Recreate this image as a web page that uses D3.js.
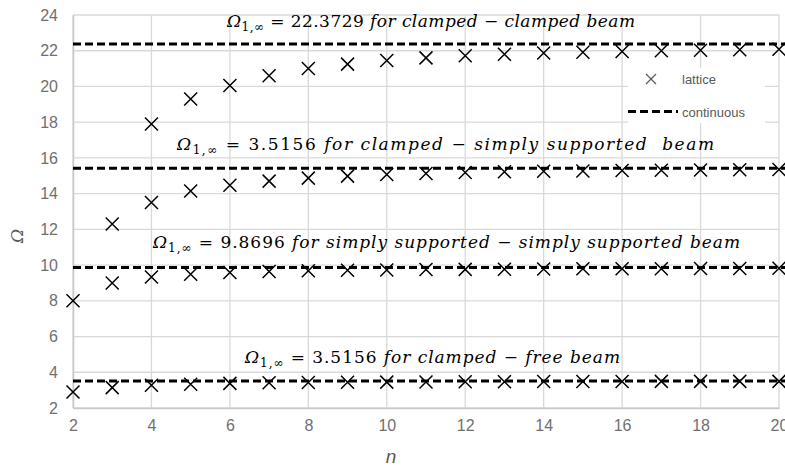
<!DOCTYPE html>
<html>
<head>
<meta charset="utf-8">
<script src="https://cdn.jsdelivr.net/npm/d3@7"></script>
<style>
  body { margin: 0; background: #fff; }
  .tick text { fill: #707070; font-family: "Liberation Sans", "Open Sans", sans-serif; font-size: 16px; }
  .note { font-family: "DejaVu Serif", "Liberation Serif", serif; font-size: 17px; fill: #000; }
</style>
</head>
<body>
<script>
//data
var nValues = [2, 3, 4, 5, 6, 7, 8, 9, 10, 11, 12, 13, 14, 15, 16, 17, 18, 19, 20];
var clampedClamped = [null, null, 17.9, 19.3, 20.05, 20.6, 21.0, 21.25, 21.45, 21.6, 21.72, 21.8, 21.87, 21.92, 21.96, 22.0, 22.03, 22.06, 22.08];
var clampedSimply = [null, 12.3, 13.5, 14.15, 14.47, 14.7, 14.87, 14.98, 15.07, 15.13, 15.18, 15.22, 15.25, 15.27, 15.29, 15.31, 15.32, 15.34, 15.35];
var simplySimply = [8.0, 9.0, 9.33, 9.49, 9.58, 9.64, 9.68, 9.71, 9.73, 9.75, 9.76, 9.77, 9.78, 9.79, 9.8, 9.8, 9.81, 9.81, 9.82];
var clampedFree = [2.9, 3.14, 3.27, 3.33, 3.38, 3.41, 3.43, 3.44, 3.45, 3.46, 3.47, 3.47, 3.48, 3.48, 3.48, 3.49, 3.49, 3.49, 3.49];
var limits = [22.3729, 15.4182, 9.8696, 3.5156];
var limitLabels = ["22.3729", "3.5156", "9.8696", "3.5156"];
var limitCases = ["for clamped \u2212 clamped beam", "for clamped \u2212 simply supported  beam",
                  "for simply supported \u2212 simply supported beam", "for clamped \u2212 free beam"];
var xTicks = [2, 4, 6, 8, 10, 12, 14, 16, 18, 20];
var yTicks = [2, 4, 6, 8, 10, 12, 14, 16, 18, 20, 22, 24];
var legendLabels = ["lattice", "continuous"];

var width = 785, height = 470;
var margin = {left: 73, right: 6, top: 15, bottom: 62};

var svg = d3.select("body").append("svg")
  .attr("width", width)
  .attr("height", height);

var x = d3.scaleLinear().domain([2, 20]).range([margin.left, width - margin.right]);
var y = d3.scaleLinear().domain([2, 24]).range([height - margin.bottom, margin.top]);

//gridlines
svg.append("g").selectAll("line.vg")
  .data(xTicks).enter().append("line")
  .attr("x1", function(d) { return x(d); }).attr("x2", function(d) { return x(d); })
  .attr("y1", y(24)).attr("y2", y(2))
  .attr("stroke", "#d9d9d9").attr("stroke-width", 1.3);
svg.append("g").selectAll("line.hg")
  .data(yTicks).enter().append("line")
  .attr("x1", x(2)).attr("x2", x(20))
  .attr("y1", function(d) { return y(d); }).attr("y2", function(d) { return y(d); })
  .attr("stroke", "#d9d9d9").attr("stroke-width", 1.3);

//axes
var xAxis = svg.append("g")
  .attr("transform", "translate(0," + y(2) + ")")
  .call(d3.axisBottom(x).tickValues(xTicks).tickSize(0).tickPadding(12));
xAxis.select(".domain").attr("stroke", "#c8c8c8").attr("stroke-width", 1.5);

var yAxis = svg.append("g")
  .attr("transform", "translate(" + x(2) + ",0)")
  .call(d3.axisLeft(y).tickValues(yTicks).tickSize(0).tickPadding(15));
yAxis.select(".domain").attr("stroke", "#c8c8c8").attr("stroke-width", 1.5);

//axis titles
svg.append("text")
  .attr("x", 391).attr("y", 463)
  .attr("text-anchor", "middle")
  .attr("font-family", "Liberation Sans, sans-serif")
  .attr("font-style", "italic")
  .attr("font-size", 19)
  .attr("fill", "#595959")
  .text("n");
svg.append("text")
  .attr("transform", "translate(23,236) rotate(-90)")
  .attr("text-anchor", "middle")
  .attr("font-family", "DejaVu Serif, serif")
  .attr("font-style", "italic")
  .attr("font-size", 17)
  .attr("fill", "#595959")
  .text("\u03A9");

//continuous limits (dashed)
svg.append("g").selectAll("line.lim")
  .data(limits).enter().append("line")
  .attr("x1", x(2)).attr("x2", width)
  .attr("y1", function(d) { return y(d); }).attr("y2", function(d) { return y(d); })
  .attr("stroke", "#000").attr("stroke-width", 3)
  .attr("stroke-dasharray", "8,4");

//lattice markers
function cross(sel, size) {
  sel.append("path")
    .attr("d", "M" + (-size) + "," + (-size) + "L" + size + "," + size + "M" + (-size) + "," + size + "L" + size + "," + (-size))
    .attr("stroke", "#000").attr("stroke-width", 1.5).attr("fill", "none");
}
var series = [clampedClamped, clampedSimply, simplySimply, clampedFree];
series.forEach(function(vals) {
  var pts = [];
  for (var i = 0; i < nValues.length; i++) {
    if (vals[i] != null) pts.push([nValues[i], vals[i]]);
  }
  var g = svg.append("g").selectAll("g")
    .data(pts).enter().append("g")
    .attr("transform", function(d) { return "translate(" + x(d[0]) + "," + y(d[1]) + ")"; });
  cross(g, 6.5);
});

//annotations
var notePos = [[227, 27], [177, 150], [153, 248], [245, 363]];
var noteLen = [408, 537, 587, 375];
limits.forEach(function(d, i) {
  var t = svg.append("text").attr("class", "note")
    .attr("x", notePos[i][0]).attr("y", notePos[i][1])
    .attr("textLength", noteLen[i])
    .attr("lengthAdjust", "spacing")
    .style("white-space", "pre");
  t.append("tspan").attr("font-style", "italic").text("\u03A9");
  t.append("tspan").attr("font-size", 12).attr("dy", 4).text("1,\u221E");
  t.append("tspan").attr("dy", -4).text(" = " + limitLabels[i] + " ");
  t.append("tspan").attr("font-style", "italic").text(limitCases[i]);
});

//legend
var legend = svg.append("g");
legend.append("rect")
  .attr("x", 628).attr("y", 68).attr("width", 137).attr("height", 55)
  .attr("fill", "#fff");
var lm = legend.append("g").attr("transform", "translate(651,79)");
lm.append("path")
  .attr("d", "M-5,-5L5,5M-5,5L5,-5")
  .attr("stroke", "#595959").attr("stroke-width", 1.2).attr("fill", "none");
legend.append("line")
  .attr("x1", 628).attr("x2", 678).attr("y1", 111.5).attr("y2", 111.5)
  .attr("stroke", "#000").attr("stroke-width", 3).attr("stroke-dasharray", "8,4");
legend.selectAll("text.leg")
  .data(legendLabels).enter().append("text")
  .attr("x", 682)
  .attr("y", function(d, i) { return 84 + i * 33; })
  .attr("font-family", "Liberation Sans, sans-serif")
  .attr("font-size", 13)
  .attr("fill", "#595959")
  .text(function(d) { return d; });
</script>
</body>
</html>
